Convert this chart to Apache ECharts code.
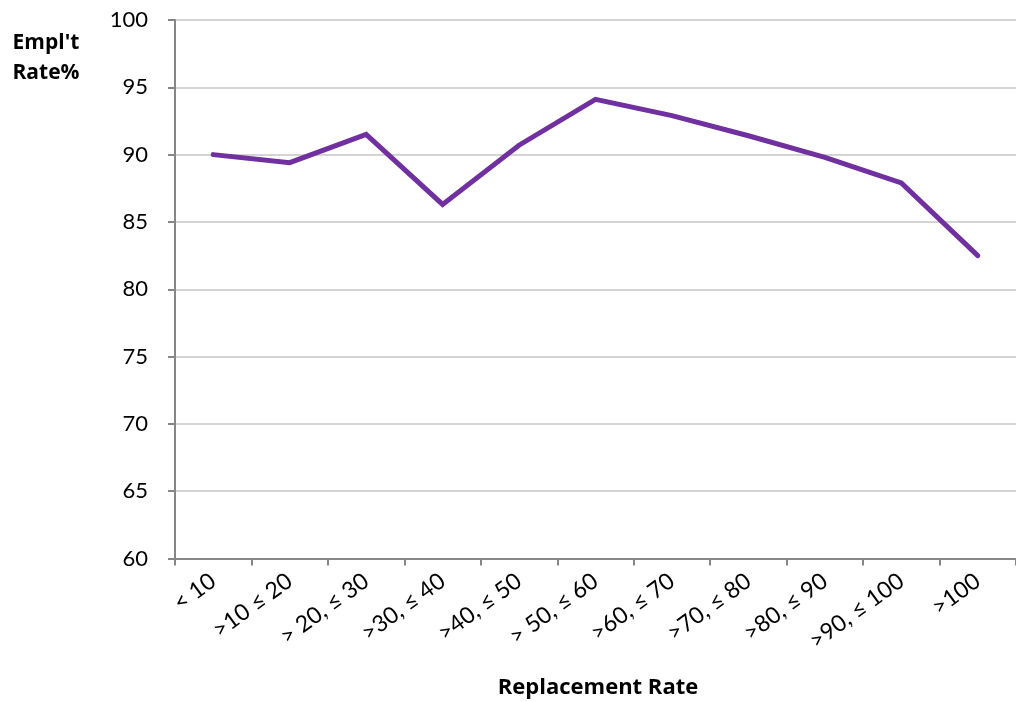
<!DOCTYPE html>
<html>
<head>
<meta charset="utf-8">
<script src="https://cdn.jsdelivr.net/npm/echarts@6/dist/echarts.min.js"></script>
<style>
html,body{margin:0;padding:0;background:#fff;}
#chart{width:1016px;height:702px;}
</style>
</head>
<body>
<div id="chart"></div>
<script>
const categories = ['< 10', '>10 \u2264 20', '> 20, \u2264 30', '>30, \u2264 40', '>40, \u2264 50', '> 50, \u2264 60', '>60, \u2264 70', '>70, \u2264 80', '>80, \u2264 90', '>90, \u2264 100', '>100'];
const emplRate = [90.0, 89.4, 91.5, 86.3, 90.7, 94.1, 92.9, 91.4, 89.8, 87.9, 82.5];
const yTitle = ["Empl't", 'Rate%'];
const xTitle = 'Replacement Rate';

const FONT = 'Lato, "Open Sans", sans-serif';
const TFONT = '"Open Sans", Lato, sans-serif';
const chart = echarts.init(document.getElementById('chart'));
chart.setOption({
  animation: false,
  backgroundColor: '#ffffff',
  grid: { left: 175, top: 20, width: 847, bottom: 143.5, containLabel: false },
  xAxis: {
    type: 'category',
    data: categories,
    boundaryGap: true,
    axisLine: { lineStyle: { color: '#868686', width: 2 } },
    axisTick: { show: true, length: 7, lineStyle: { color: '#868686', width: 2 } },
    axisLabel: { rotate: 36, margin: 20, color: '#000', fontSize: 23, fontFamily: FONT, interval: 0 },
    splitLine: { show: false }
  },
  yAxis: {
    type: 'value',
    min: 60, max: 100, interval: 5,
    axisLine: { show: true, lineStyle: { color: '#868686', width: 2 } },
    axisTick: { show: true, length: 7, lineStyle: { color: '#868686', width: 2 } },
    axisLabel: { margin: 27, color: '#000', fontSize: 22, fontFamily: FONT },
    splitLine: { show: true, lineStyle: { color: '#d4d4d4', width: 2 } }
  },
  graphic: [
    { type: 'text', style: { text: yTitle[0], x: 46, y: 43, font: 'bold 21px ' + TFONT, fill: '#000', textAlign: 'center', textVerticalAlign: 'middle' } },
    { type: 'text', style: { text: yTitle[1], x: 46, y: 73, font: 'bold 21px ' + TFONT, fill: '#000', textAlign: 'center', textVerticalAlign: 'middle' } },
    { type: 'text', style: { text: xTitle, x: 598, y: 688, font: 'bold 22px ' + TFONT, fill: '#000', textAlign: 'center', textVerticalAlign: 'middle' } }
  ],
  series: [{
    type: 'line',
    data: emplRate,
    symbol: 'none',
    lineStyle: { color: '#7030A0', width: 5, cap: 'round', join: 'miter' },
    itemStyle: { color: '#7030A0' }
  }]
});
</script>
</body>
</html>
